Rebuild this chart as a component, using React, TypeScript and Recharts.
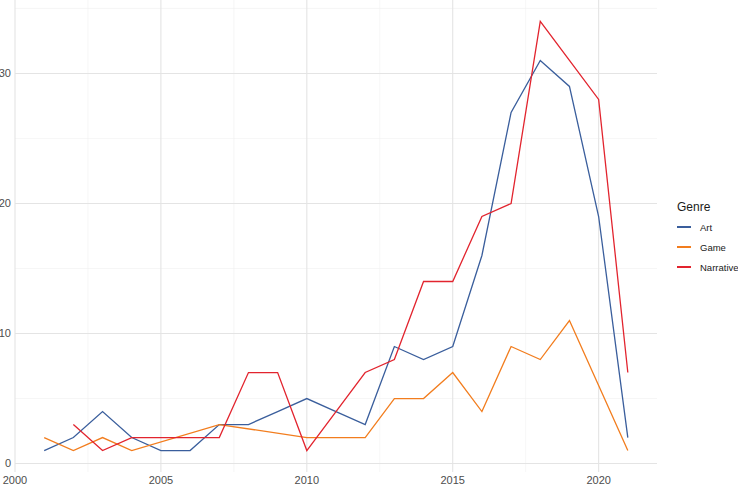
import React from "react";
import { LineChart, Line, XAxis, YAxis, ReferenceLine } from "recharts";

const years = [2001, 2002, 2003, 2004, 2005, 2006, 2007, 2008, 2009, 2010, 2011, 2012, 2013, 2014, 2015, 2016, 2017, 2018, 2019, 2020, 2021];
const art = [1, 2, 4, 2, 1, 1, 3, 3, 4, 5, 4, 3, 9, 8, 9, 16, 27, 31, 29, 19, 2];
const game = [2, 1, 2, 1, null, null, 3, null, null, 2, 2, 2, 5, 5, 7, 4, 9, 8, 11, 6, 1];
const narrative = [null, 3, 1, 2, 2, 2, 2, 7, 7, 1, 4, 7, 8, 14, 14, 19, 20, 34, 31, 28, 7];

const xTicks = [2000, 2005, 2010, 2015, 2020];
const xMinor = [2002.5, 2007.5, 2012.5, 2017.5];
const yTicks = [0, 10, 20, 30];
const yMinor = [5, 15, 25, 35];

const series = [
    { key: "Art", values: art, color: "#3A5E9C" },
    { key: "Game", values: game, color: "#F27D1E" },
    { key: "Narrative", values: narrative, color: "#E2242E" },
];

const data = years.map((year, i) => {
    const row: Record<string, number | null> = { year };
    series.forEach((s) => {
        row[s.key] = s.values[i];
    });
    return row;
});

const font = "'Liberation Sans', Arial, sans-serif";

const GenreLegend = () => (
    <div style={{ position: "absolute", left: 677, top: 200, fontFamily: font, color: "#1a1a1a" }}>
        <div style={{ fontSize: 12, lineHeight: "14px", marginBottom: 3 }}>Genre</div>
        {series.map((s) => (
            <div key={s.key} style={{ display: "flex", alignItems: "center", height: 20 }}>
                <span style={{ display: "inline-block", width: 14, height: 2, background: s.color, marginRight: 9 }}></span>
                <span style={{ fontSize: 9.5 }}>{s.key}</span>
            </div>
        ))}
    </div>
);

const App = () => {
    return (
        <div style={{ position: "absolute", left: 0, top: 0, width: 738, height: 486, background: "#fff" }}>
            <LineChart width={738} height={486} data={data} margin={{ top: 0, right: 81, left: 0, bottom: 0 }}>
                {yMinor.map((v) => (
                    <ReferenceLine key={"ym" + v} y={v} stroke="#f0f0f0" strokeWidth={0.6} />
                ))}
                {xMinor.map((v) => (
                    <ReferenceLine key={"xm" + v} x={v} stroke="#f0f0f0" strokeWidth={0.6} />
                ))}
                {yTicks.map((v) => (
                    <ReferenceLine key={"y" + v} y={v} stroke="#e4e4e4" strokeWidth={1.1} />
                ))}
                {xTicks.map((v) => (
                    <ReferenceLine key={"x" + v} x={v} stroke="#e4e4e4" strokeWidth={1.1} />
                ))}
                <XAxis
                    dataKey="year"
                    type="number"
                    domain={[2000, 2022]}
                    ticks={xTicks}
                    allowDataOverflow
                    axisLine={false}
                    tickLine={false}
                    tickSize={0}
                    tickMargin={4}
                    height={14}
                    tick={{ fill: "#4d4d4d", fontSize: 11, fontFamily: font }}
                />
                <YAxis
                    type="number"
                    domain={[-0.65, 35.65]}
                    ticks={yTicks}
                    allowDataOverflow
                    axisLine={false}
                    tickLine={false}
                    tickSize={0}
                    tickMargin={4}
                    width={15}
                    tick={{ fill: "#4d4d4d", fontSize: 11, fontFamily: font }}
                />
                {series.map((s) => (
                    <Line
                        key={s.key}
                        dataKey={s.key}
                        stroke={s.color}
                        strokeWidth={1.3}
                        dot={false}
                        connectNulls
                        isAnimationActive={false}
                    />
                ))}
            </LineChart>
            <GenreLegend />
        </div>
    );
};

export default App;
